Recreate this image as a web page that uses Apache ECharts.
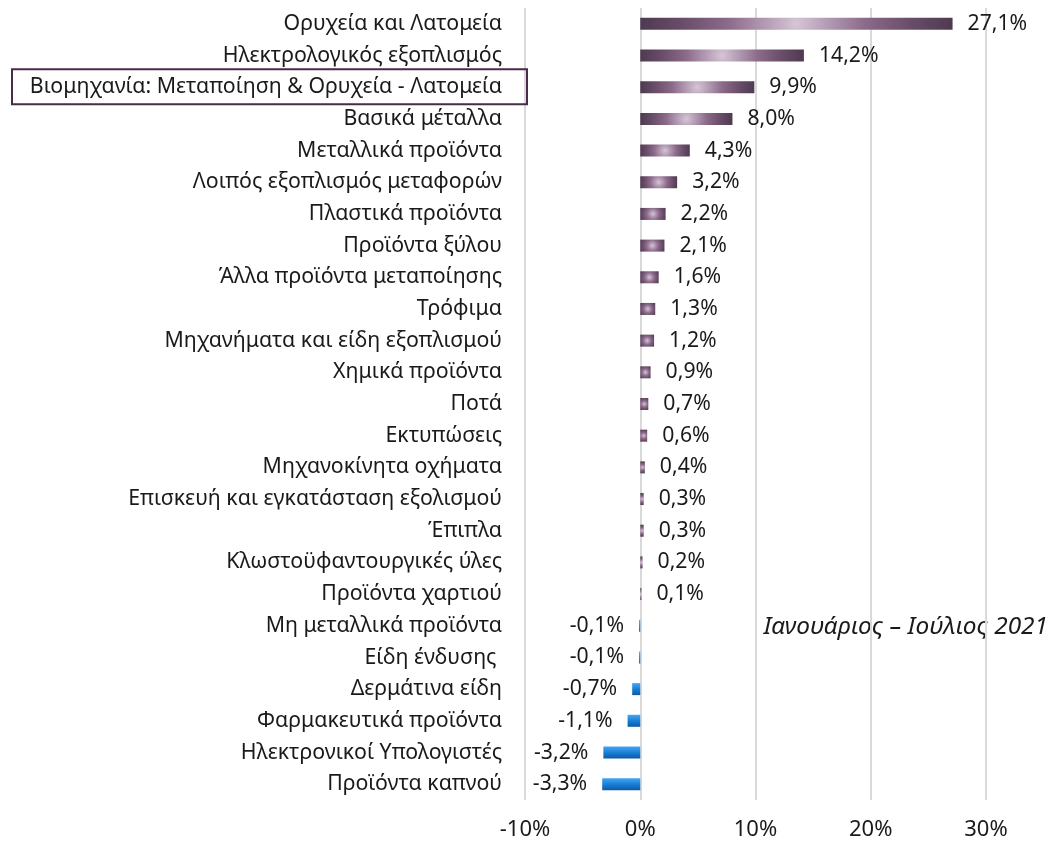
<!DOCTYPE html>
<html><head><meta charset="utf-8">
<script src="https://cdn.jsdelivr.net/npm/echarts@6/dist/echarts.min.js"></script>
<style>html,body{margin:0;padding:0;background:#fff}#c{width:1054px;height:844px}</style>
</head><body><div id="c"></div>
<script>
const categories = [
  "Ορυχεία και Λατομεία",
  "Ηλεκτρολογικός εξοπλισμός",
  "Βιομηχανία: Μεταποίηση & Ορυχεία - Λατομεία",
  "Βασικά μέταλλα",
  "Μεταλλικά προϊόντα",
  "Λοιπός εξοπλισμός μεταφορών",
  "Πλαστικά προϊόντα",
  "Προϊόντα ξύλου",
  "Άλλα προϊόντα μεταποίησης",
  "Τρόφιμα",
  "Μηχανήματα και είδη εξοπλισμού",
  "Χημικά προϊόντα",
  "Ποτά",
  "Εκτυπώσεις",
  "Μηχανοκίνητα οχήματα",
  "Επισκευή και εγκατάσταση εξολισμού",
  "Έπιπλα",
  "Κλωστοϋφαντουργικές ύλες",
  "Προϊόντα χαρτιού",
  "Μη μεταλλικά προϊόντα",
  "Είδη ένδυσης ",
  "Δερμάτινα είδη",
  "Φαρμακευτικά προϊόντα",
  "Ηλεκτρονικοί Υπολογιστές",
  "Προϊόντα καπνού"
];
const values = [27.1, 14.2, 9.9, 8.0, 4.3, 3.2, 2.2, 2.1, 1.6, 1.3, 1.2, 0.9, 0.7, 0.6, 0.4, 0.3, 0.3, 0.2, 0.1, -0.1, -0.1, -0.7, -1.1, -3.2, -3.3];
const axisTicks = [-10, 0, 10, 20, 30];
const highlightCategory = "Βιομηχανία: Μεταποίηση & Ορυχεία - Λατομεία";
const periodText = "Ιανουάριος – Ιούλιος 2021";

const FONT = "'Noto Sans', sans-serif";
const BAR_H = 12;
// stops from centre (0) to outer radius (1)
const radialStops = [
  {offset: 0, color: '#d5c6d5'},
  {offset: 0.2, color: '#b39bb3'},
  {offset: 0.44, color: '#8c6a8a'},
  {offset: 0.72, color: '#6a4e6a'},
  {offset: 1, color: '#4e3a50'}
];
const negGrad = new echarts.graphic.LinearGradient(0, 0, 0, 1, [
  {offset: 0, color: '#45a6f5'},
  {offset: 0.5, color: '#1a7fd6'},
  {offset: 1, color: '#0b5aa6'}
]);

const chart = echarts.init(document.getElementById('c'), null, {renderer: 'canvas'});
const gridLeft = 525, gridRight = 68, gridTop = 8, gridBottom = 44;
const hiIdx = categories.indexOf(highlightCategory);
const band = (844 - gridTop - gridBottom) / categories.length;

function buildData(pxPerUnit) {
  return values.map(v => {
    let color = negGrad;
    if (v >= 0) {
      const w = Math.max(1, v * pxPerUnit);
      const r = 0.5 * Math.sqrt(w * w + BAR_H * BAR_H) / Math.min(w, BAR_H);
      color = new echarts.graphic.RadialGradient(0.5, 0.5, r, radialStops);
    }
    return {value: v, itemStyle: {color: color}, label: {position: v >= 0 ? 'right' : 'left'}};
  });
}

chart.setOption({
  animation: false,
  backgroundColor: '#fff',
  grid: {left: gridLeft, right: gridRight, top: gridTop, bottom: gridBottom, containLabel: false},
  xAxis: {
    type: 'value', min: axisTicks[0], max: axisTicks[axisTicks.length - 1], interval: 10,
    axisLine: {show: false},
    axisTick: {show: false},
    splitLine: {show: true, lineStyle: {color: '#d9d9d9', width: 2}},
    axisLabel: {formatter: v => v + '%', fontFamily: FONT, fontSize: 22, color: '#1a1a1a', margin: 19}
  },
  yAxis: {
    type: 'category', data: categories, inverse: true,
    axisLine: {show: false}, axisTick: {show: false},
    axisLabel: {fontFamily: FONT, fontSize: 21.3, color: '#1a1a1a', margin: 23}
  },
  series: [{
    type: 'bar', barWidth: BAR_H,
    data: buildData(11.525),
    label: {
      show: true, distance: 15, fontFamily: FONT, fontSize: 21.2, color: '#1a1a1a',
      formatter: p => p.value.toFixed(1).replace('.', ',') + '%'
    }
  }],
  graphic: [
    {
      type: 'rect', z: 10,
      shape: {x: 12, y: gridTop + band * hiIdx + band / 2 - 18, width: 515, height: 35},
      style: {fill: 'none', stroke: '#4a2b4a', lineWidth: 2}
    },
    {
      type: 'text', right: 6, top: 615,
      style: {text: periodText, font: 'italic 24.4px ' + FONT, fill: '#1a1a1a'}
    }
  ]
});
const pxPerUnit = (chart.convertToPixel({xAxisIndex: 0}, 10) - chart.convertToPixel({xAxisIndex: 0}, 0)) / 10;
chart.setOption({series: [{data: buildData(pxPerUnit)}]});
</script></body></html>
